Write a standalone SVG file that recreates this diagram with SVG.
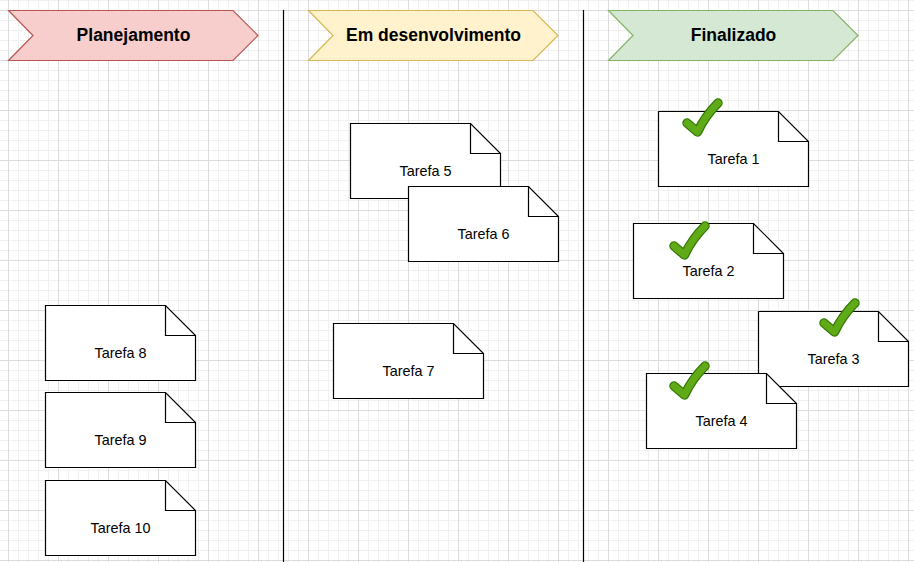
<svg xmlns="http://www.w3.org/2000/svg" width="914" height="562" viewBox="0 0 914 562">
<defs>
<pattern id="grid" x="8" y="10" width="50" height="50" patternUnits="userSpaceOnUse">
<path d="M10.5 0V50M20.5 0V50M30.5 0V50M40.5 0V50M0 10.5H50M0 20.5H50M0 30.5H50M0 40.5H50" stroke="#f0f0f0" stroke-width="1" fill="none"/>
<path d="M0.5 0V50M0 0.5H50" stroke="#dcdcdc" stroke-width="1" fill="none"/>
</pattern>
<g id="note">
<path d="M0 0H120L150 30V75H0Z" fill="#ffffff" stroke="#000000" stroke-width="1.2"/>
<path d="M120 0V30H150" fill="none" stroke="#000000" stroke-width="1.2"/>
</g>
<g id="check">
<path d="M4 25L14.5 34Q22 18 35 5" fill="none" stroke="#2d7600" stroke-width="9.5" stroke-linecap="round" stroke-linejoin="round"/>
<path d="M4 25L14.5 34Q22 18 35 5" fill="none" stroke="#60a917" stroke-width="7" stroke-linecap="round" stroke-linejoin="round"/>
</g>
</defs>
<style>
.lbl{font-family:"Liberation Sans",Arial,sans-serif;font-size:14.4px;fill:#000000;text-anchor:middle}
.hdr{font-family:"Liberation Sans",Arial,sans-serif;font-size:17.5px;font-weight:bold;fill:#000000;text-anchor:middle}
.sep{stroke:#000000;stroke-width:1.2;fill:none}
</style>
<rect x="0" y="0" width="914" height="562" fill="#ffffff"/>
<rect x="0" y="0" width="914" height="562" fill="url(#grid)"/>

<g id="connectors">
<line class="sep" x1="283.5" y1="10" x2="283.5" y2="562"/>
<line class="sep" x1="583.5" y1="10" x2="583.5" y2="562"/>
</g>

<g id="hdr-planejamento">
<path d="M8.5 10.5H233L258 35.5L233 60.5H8.5L33 35.5Z" fill="#f8cecc" stroke="#b85450" stroke-width="1.2"/>
<text class="hdr" x="133.5" y="41">Planejamento</text>
</g>
<g id="hdr-desenvolvimento">
<path d="M308.5 10.5H533L558 35.5L533 60.5H308.5L333 35.5Z" fill="#fff2cc" stroke="#d6b656" stroke-width="1.2"/>
<text class="hdr" x="433.5" y="41">Em desenvolvimento</text>
</g>
<g id="hdr-finalizado">
<path d="M608.5 10.5H833L858 35.5L833 60.5H608.5L633 35.5Z" fill="#d5e8d4" stroke="#82b366" stroke-width="1.2"/>
<text class="hdr" x="733.5" y="41">Finalizado</text>
</g>

<g id="tarefa8">
<use href="#note" transform="translate(45.5,305.5)"/>
<text class="lbl" x="120.5" y="358">Tarefa 8</text>
</g>
<g id="tarefa9">
<use href="#note" transform="translate(45.5,392.5)"/>
<text class="lbl" x="120.5" y="445">Tarefa 9</text>
</g>
<g id="tarefa10">
<use href="#note" transform="translate(45.5,480.5)"/>
<text class="lbl" x="120.5" y="533">Tarefa 10</text>
</g>

<g id="tarefa5">
<use href="#note" transform="translate(350.5,123.5)"/>
<text class="lbl" x="425.5" y="176">Tarefa 5</text>
</g>
<g id="tarefa6">
<use href="#note" transform="translate(408.5,186.5)"/>
<text class="lbl" x="483.5" y="239">Tarefa 6</text>
</g>
<g id="tarefa7">
<use href="#note" transform="translate(333.5,323.5)"/>
<text class="lbl" x="408.5" y="376">Tarefa 7</text>
</g>

<g id="tarefa1">
<use href="#note" transform="translate(658.5,111.5)"/>
<text class="lbl" x="733.5" y="164">Tarefa 1</text>
<use href="#check" transform="translate(683,98)"/>
</g>
<g id="tarefa2">
<use href="#note" transform="translate(633.5,223.5)"/>
<text class="lbl" x="708.5" y="276">Tarefa 2</text>
<use href="#check" transform="translate(670,221)"/>
</g>
<g id="tarefa3">
<use href="#note" transform="translate(758.5,311.5)"/>
<text class="lbl" x="833.5" y="364">Tarefa 3</text>
<use href="#check" transform="translate(820,298)"/>
</g>
<g id="tarefa4">
<use href="#note" transform="translate(646.5,373.5)"/>
<text class="lbl" x="721.5" y="426">Tarefa 4</text>
<use href="#check" transform="translate(670,361)"/>
</g>
</svg>
